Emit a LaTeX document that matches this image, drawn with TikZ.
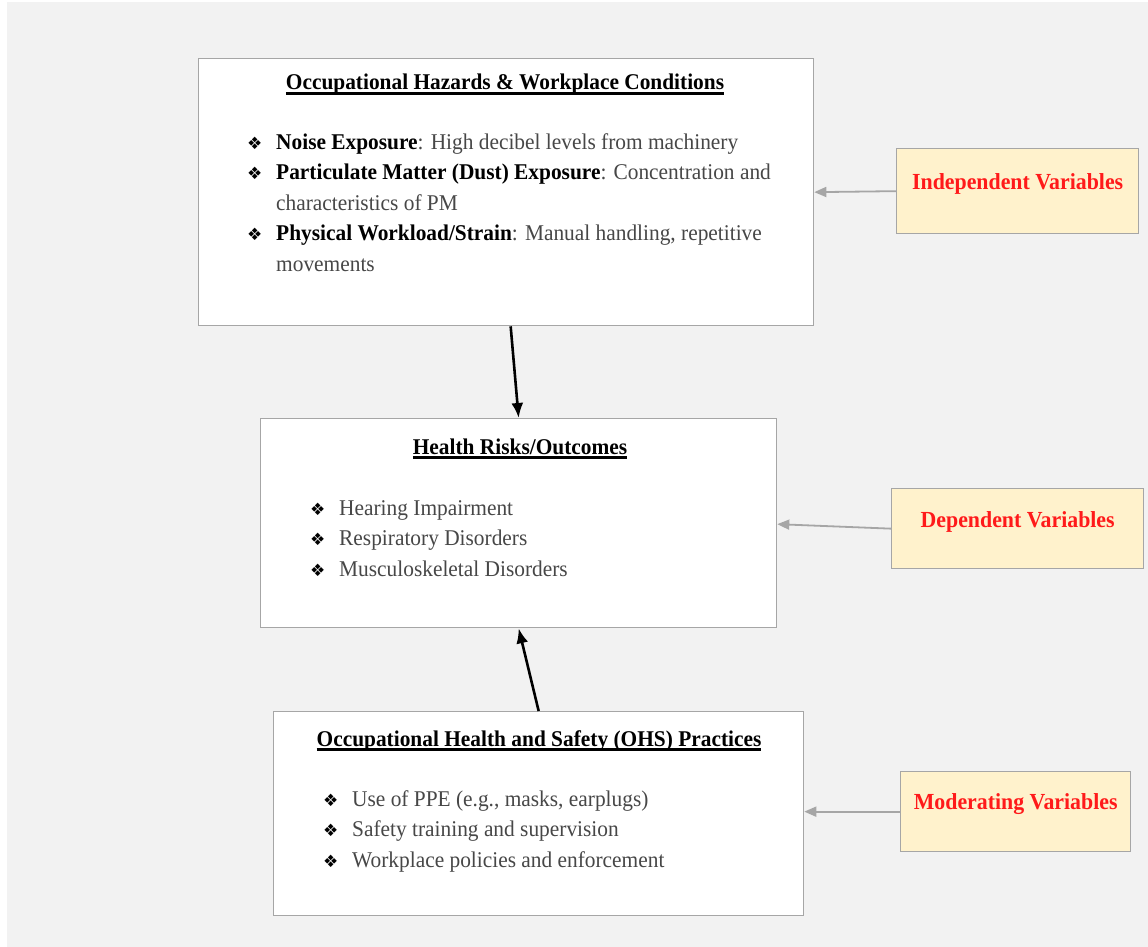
\documentclass[tikz,border=0pt]{standalone}
\usepackage{fontspec}
\setmainfont[FakeStretch=0.95]{Liberation Serif}
\newfontfamily\symfont{DejaVu Sans}
\usetikzlibrary{arrows.meta}
\definecolor{canvas}{HTML}{F2F2F2}
\definecolor{frame}{HTML}{A6A6A6}
\definecolor{notefill}{HTML}{FFF2CC}
\definecolor{notered}{HTML}{FF1A1A}
\newcommand{\bul}{\makebox[29pt][l]{{\symfont\fontsize{17}{17}\selectfont\color{black}❖}}}
\newcommand{\cont}{\hspace*{29pt}}
\newcommand{\key}[1]{{\bfseries\color{black}#1}}
\newcommand{\uln}[1]{\leavevmode\setbox0\hbox{#1}\rlap{\copy0}\rule[-5pt]{\wd0}{2.6pt}}

\begin{document}
\begin{tikzpicture}[
    x=1pt, y=-1pt,
    font=\fontsize{22.5}{30.4}\selectfont,
    panel/.style={draw=frame, line width=1.3pt, fill=white, anchor=north west, inner sep=0pt},
    note/.style={draw=frame, line width=1.3pt, fill=notefill, anchor=north west, inner sep=0pt},
    ttl/.style={anchor=base, inner sep=0pt, font=\fontsize{22.5}{27}\selectfont\bfseries},
    lst/.style={anchor=base west, align=left, inner sep=0pt, text=black!72},
    nt/.style={inner sep=0pt, text=notered, font=\fontsize{23}{27}\selectfont\bfseries},
    fl/.style={-{Latex[length=15pt, width=12pt]}, line width=2.6pt},
    gl/.style={-{Triangle[length=12pt, width=10pt]}, draw=frame, line width=1.8pt},
]
    \useasboundingbox (0,0) rectangle (1148,947);
    \fill[canvas] (7,2) rectangle (1148,947);

    % main panels
    \node[panel, minimum width=615pt, minimum height=267pt] (haz) at (198,58) {};
    \node[panel, minimum width=516pt, minimum height=209pt] (hlt) at (260,418) {};
    \node[panel, minimum width=530pt, minimum height=204pt] (ohs) at (273,711) {};

    % panel texts (base = last line)
    \node[ttl] (hazT) at (505,90) {\uln{Occupational Hazards \& Workplace Conditions}};
    \node[lst] (hazL) at (247,271) {\bul\key{Noise Exposure}: High decibel levels from machinery\\
        \bul\key{Particulate Matter (Dust) Exposure}: Concentration and\\
        \cont characteristics of PM\\
        \bul\key{Physical Workload/Strain}: Manual handling, repetitive\\
        \cont movements};

    \node[ttl] (hltT) at (520,454) {\uln{Health Risks/Outcomes}};
    \node[lst] (hltL) at (310,576) {\bul Hearing Impairment\\
        \bul Respiratory Disorders\\
        \bul Musculoskeletal Disorders};

    \node[ttl] (ohsT) at (539,746) {\uln{Occupational Health and Safety (OHS) Practices}};
    \node[lst] (ohsL) at (323,867) {\bul Use of PPE (e.g., masks, earplugs)\\
        \bul Safety training and supervision\\
        \bul Workplace policies and enforcement};

    % variable notes
    \node[note, minimum width=242pt, minimum height=85pt] (ind) at (896,148) {};
    \node[note, minimum width=252pt, minimum height=80pt] (dep) at (891,488) {};
    \node[note, minimum width=230pt, minimum height=80pt] (mod) at (900,771) {};
    \node[nt] (indT) at ([yshift=7pt]ind.center) {Independent Variables};
    \node[nt] (depT) at ([yshift=7pt]dep.center) {Dependent Variables};
    \node[nt] (modT) at ([yshift=8pt]mod.center) {Moderating Variables};

    % connectors
    \draw[fl] ([xshift=4.5pt]haz.south) -- (hlt.north);
    \draw[fl] (ohs.north) -- (hlt.south);
    \draw[gl] (ind.west) -- (haz.east);
    \draw[gl] (dep.west) -- ([yshift=-1pt]hlt.east);
    \draw[gl] (mod.west) -- ([yshift=2pt]ohs.east);
\end{tikzpicture}
\end{document}
